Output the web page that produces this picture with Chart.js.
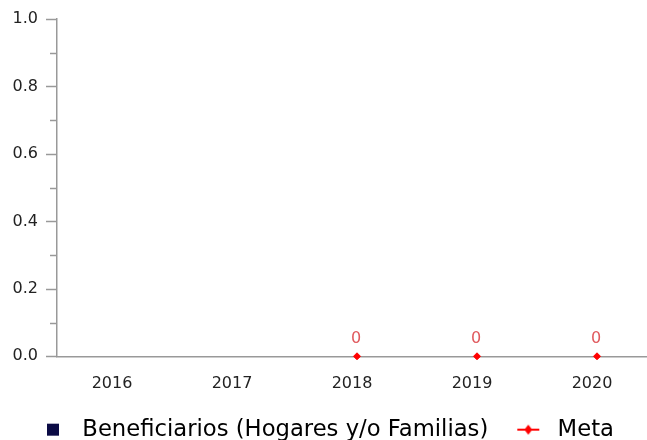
<!DOCTYPE html>
<html>
<head>
<meta charset="utf-8">
<script src="https://cdn.jsdelivr.net/npm/chart.js@4"></script>
<style>
  html, body { margin: 0; padding: 0; background: #fff; overflow: hidden; }
  #wrap { width: 662px; height: 440px; }
</style>
</head>
<body>
<div id="wrap"><canvas id="grafico"></canvas></div>
<script>
// datos del grafico
const anios = ['2016', '2017', '2018', '2019', '2020'];
const beneficiarios = [null, null, null, null, null];
const meta = [null, null, 0, 0, 0];
const etiquetasMeta = ['', '', '0', '0', '0'];

const colorBenef = '#0b0b45';
const colorMeta = '#ff0000';

// iconos de leyenda
function icono(dibujar) {
    const c = document.createElement('canvas');
    c.width = 36; c.height = 14;
    dibujar(c.getContext('2d'));
    return c;
}
const iconoBenef = icono(c => { c.fillStyle = colorBenef; c.fillRect(12, 1, 12, 12); });
const iconoMeta = icono(c => {
    c.strokeStyle = colorMeta; c.lineWidth = 2;
    c.beginPath(); c.moveTo(7, 7); c.lineTo(29, 7); c.stroke();
    c.fillStyle = colorMeta;
    c.beginPath(); c.moveTo(18, 2); c.lineTo(22, 7); c.lineTo(18, 12); c.lineTo(14, 7); c.closePath(); c.fill();
});

// marcas menores / mayores del eje y
const marcasEje = {
    id: 'marcasEje',
    afterDraw(chart) {
        const y = chart.scales.y, ctx = chart.ctx;
        const x0 = chart.chartArea.left;
        ctx.save();
        ctx.strokeStyle = '#999'; ctx.lineWidth = 1.5;
        y.ticks.forEach((t, i) => {
            const py = Math.round(y.getPixelForValue(t.value)) + 0.5;
            const largo = (i % 2 === 0) ? 11 : 7;
            ctx.beginPath(); ctx.moveTo(x0 - largo, py); ctx.lineTo(x0, py); ctx.stroke();
        });
        ctx.restore();
    }
};

// etiquetas de datos sobre los puntos de Meta
const etiquetas = {
    id: 'etiquetas',
    afterDatasetsDraw(chart) {
        const ctx = chart.ctx;
        const pts = chart.getDatasetMeta(1).data;
        ctx.save();
        ctx.font = '16px "DejaVu Sans"';
        ctx.fillStyle = '#e05a5e';
        ctx.textAlign = 'center';
        ctx.textBaseline = 'middle';
        pts.forEach((p, i) => {
            if (etiquetasMeta[i]) ctx.fillText(etiquetasMeta[i], p.x - 1, p.y - 17);
        });
        ctx.restore();
    }
};

new Chart(document.getElementById('grafico'), {
    type: 'bar',
    data: {
        labels: anios,
        datasets: [{
            label: 'Beneficiarios (Hogares y/o Familias)',
            data: beneficiarios,
            backgroundColor: colorBenef
        }, {
            type: 'line',
            label: 'Meta',
            data: meta,
            showLine: false,
            borderColor: colorMeta,
            backgroundColor: colorMeta,
            pointStyle: 'rectRot',
            pointRadius: 3.5,
            clip: false
        }]
    },
    options: {
        responsive: true,
        maintainAspectRatio: false,
        animation: false,
        layout: { padding: { top: 19, right: 0, left: 13, bottom: -11 } },
        scales: {
            x: {
                afterFit(s) { s.height = 40; },
                grid: { display: false, drawTicks: false },
                border: { color: '#999', width: 1.5 },
                ticks: {
                    color: '#222', font: { family: 'DejaVu Sans', size: 16 },
                    padding: 18, labelOffset: -5
                }
            },
            y: {
                min: 0, max: 1,
                afterFit(s) { s.width = 44; s.paddingTop = 0; s.paddingBottom = 0; },
                grid: { display: false, drawTicks: false },
                border: { color: '#999', width: 1.5 },
                ticks: {
                    stepSize: 0.1,
                    padding: 19,
                    color: '#222',
                    font: { family: 'DejaVu Sans', size: 16 },
                    callback: (v, i) => (i % 2 === 0 ? v.toFixed(1) : '')
                }
            }
        },
        plugins: {
            legend: {
                position: 'bottom',
                align: 'start',
                labels: {
                    color: '#222',
                    font: { family: 'DejaVu Sans', size: 22.7 },
                    usePointStyle: true,
                    pointStyleWidth: 36,
                    padding: 22,
                    generateLabels(chart) {
                        return [
                            { text: 'Beneficiarios (Hogares y/o Familias)', pointStyle: iconoBenef, lineWidth: 0, datasetIndex: 0 },
                            { text: 'Meta', pointStyle: iconoMeta, lineWidth: 0, datasetIndex: 1 }
                        ];
                    }
                }
            },
            tooltip: { enabled: false }
        }
    },
    plugins: [marcasEje, etiquetas]
});
</script>
</body>
</html>
